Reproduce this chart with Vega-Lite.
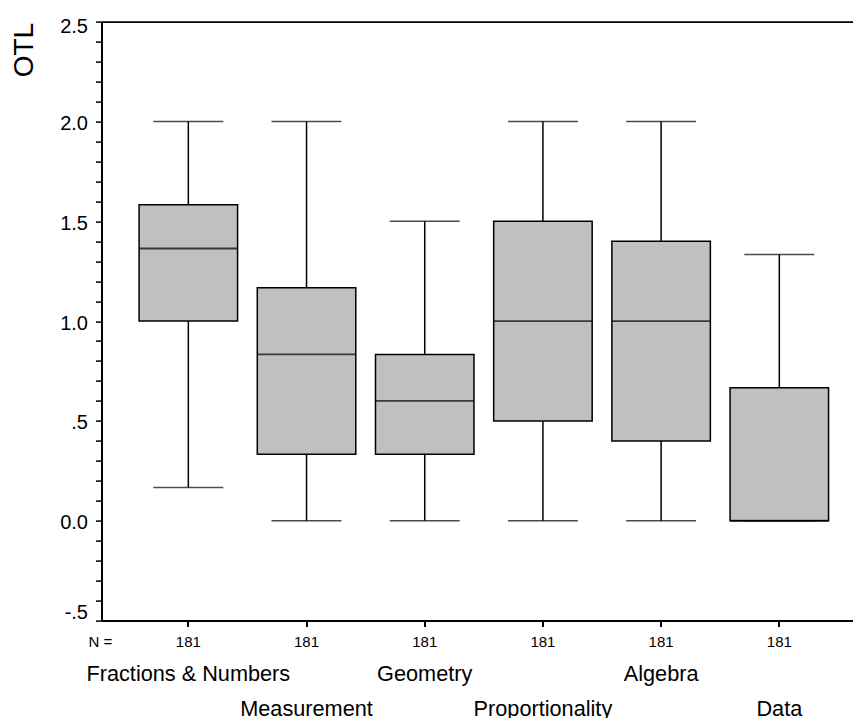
{
  "$schema": "https://vega.github.io/schema/vega-lite/v6.json",
  "width": 751.5,
  "height": 599,
  "autosize": {"type": "none"},
  "padding": {"left": 101.5, "top": 21.6, "right": 0, "bottom": 97.4},
  "background": "white",
  "config": {
    "view": {"stroke": null},
    "font": "Liberation Sans",
    "axis": {"grid": false, "labelColor": "black", "titleColor": "black", "labelFont": "Liberation Sans", "titleFont": "Liberation Sans"}
  },
  "data": {
    "values": [
      {"area": "Fractions & Numbers", "N": 181, "min": 0.1667, "q1": 1.0, "median": 1.3636, "q3": 1.5833, "max": 2.0},
      {"area": "Measurement", "N": 181, "min": 0.0, "q1": 0.3333, "median": 0.8333, "q3": 1.1667, "max": 2.0},
      {"area": "Geometry", "N": 181, "min": 0.0, "q1": 0.3333, "median": 0.6, "q3": 0.8333, "max": 1.5},
      {"area": "Proportionality", "N": 181, "min": 0.0, "q1": 0.5, "median": 1.0, "q3": 1.5, "max": 2.0},
      {"area": "Algebra", "N": 181, "min": 0.0, "q1": 0.4, "median": 1.0, "q3": 1.4, "max": 2.0},
      {"area": "Data", "N": 181, "min": 0.0, "q1": 0.0, "median": 0.0, "q3": 0.6667, "max": 1.3333}
    ]
  },
  "resolve": {"axis": {"x": "independent", "y": "independent"}},
  "layer": [
    {
      "mark": {"type": "rule", "color": "black", "strokeWidth": 1.5},
      "encoding": {
        "x": {
          "field": "area", "type": "nominal", "sort": null,
          "scale": {"paddingInner": 0.1667, "paddingOuter": 0.2624, "align": 0.606, "round": false},
          "axis": {
            "orient": "bottom", "bandPosition": 0.5,
            "domain": true, "domainColor": "black", "domainWidth": 2,
            "ticks": true, "tickColor": "black", "tickWidth": 1.5, "tickSize": 6, "tickOpacity": 1,
            "labelExpr": "'181'", "labelFontSize": 15, "labelPadding": 8, "labelAngle": 0,
            "labelOverlap": false, "labelBound": false,
            "title": "N =", "titleFontSize": 15, "titleFontWeight": "normal",
            "titleAlign": "left", "titleBaseline": "top", "titleX": -13.5, "titleY": 14.2, "titleAngle": 0
          }
        },
        "y": {
          "field": "min", "type": "quantitative",
          "scale": {"domain": [-0.5, 2.5], "nice": false, "zero": false},
          "axis": {
            "orient": "left",
            "values": [-0.5, -0.4, -0.3, -0.2, -0.1, 0, 0.1, 0.2, 0.3, 0.4, 0.5, 0.6, 0.7, 0.8, 0.9, 1.0, 1.1, 1.2, 1.3, 1.4, 1.5, 1.6, 1.7, 1.8, 1.9, 2.0, 2.1, 2.2, 2.3, 2.4, 2.5],
            "labelExpr": "abs(datum.value*2 - round(datum.value*2)) < 0.001 ? (abs(datum.value - 0.5) < 0.001 ? '.5' : abs(datum.value + 0.5) < 0.001 ? '-.5' : format(datum.value, '.1f')) : ''",
            "labelFontSize": 20, "labelPadding": 8, "labelOverlap": false, "labelBound": false, "labelFlush": false,
            "labelOffset": {"condition": [{"test": "datum.value > 2.45", "value": 4.4}, {"test": "datum.value < -0.45", "value": -8.4}], "value": 2},
            "domain": true, "domainColor": "black", "domainWidth": 2,
            "ticks": true, "tickColor": "black", "tickWidth": 1.5, "tickSize": 6,
            "title": "OTL", "titleFontSize": 28, "titleFontWeight": "normal",
            "titleAngle": -90, "titleAlign": "right", "titleBaseline": "middle", "titleX": -77, "titleY": 0.8
          }
        },
        "y2": {"field": "max"}
      }
    },
    {
      "mark": {"type": "bar", "fill": "#c0c0c0", "stroke": "black", "strokeWidth": 1.5},
      "encoding": {
        "x": {
          "field": "area", "type": "nominal", "sort": null,
          "axis": {
            "orient": "bottom", "bandPosition": 0.5, "domain": false,
            "ticks": true, "tickColor": "black", "tickWidth": 1.5, "tickSize": 6, "tickOpacity": 1,
            "labelExpr": "indexof(['Fractions & Numbers', 'Geometry', 'Algebra'], datum.value) >= 0 ? datum.label : ''",
            "labelFontSize": 21.7, "labelPadding": 36.8, "labelAngle": 0, "labelLimit": 500,
            "labelOverlap": false, "labelBound": false, "title": null
          }
        },
        "y": {"field": "q1", "type": "quantitative", "axis": null},
        "y2": {"field": "q3"}
      }
    },
    {
      "mark": {"type": "tick", "color": "black", "size": 98.5, "thickness": 1.8},
      "encoding": {
        "x": {
          "field": "area", "type": "nominal", "sort": null,
          "axis": {
            "orient": "bottom", "bandPosition": 0.5, "domain": false,
            "ticks": true, "tickColor": "black", "tickWidth": 1.5, "tickSize": 6, "tickOpacity": 1,
            "labelExpr": "indexof(['Measurement', 'Proportionality', 'Data'], datum.value) >= 0 ? datum.label : ''",
            "labelFontSize": 21.7, "labelPadding": 71.8, "labelAngle": 0, "labelLimit": 500,
            "labelOverlap": false, "labelBound": false, "title": null
          }
        },
        "y": {"field": "median", "type": "quantitative", "axis": null}
      }
    },
    {
      "mark": {"type": "tick", "color": "black", "size": 70, "thickness": 1.5},
      "encoding": {
        "x": {
          "field": "area", "type": "nominal", "sort": null,
          "axis": {
            "orient": "top", "domain": true, "domainColor": "black", "domainWidth": 1.6,
            "ticks": true, "tickSize": 0, "tickOpacity": 0, "labels": false, "title": null
          }
        },
        "y": {"field": "min", "type": "quantitative", "axis": null}
      }
    },
    {
      "mark": {"type": "tick", "color": "black", "size": 70, "thickness": 1.5},
      "encoding": {
        "x": {"field": "area", "type": "nominal", "sort": null, "axis": null},
        "y": {"field": "max", "type": "quantitative", "axis": null}
      }
    }
  ]
}
